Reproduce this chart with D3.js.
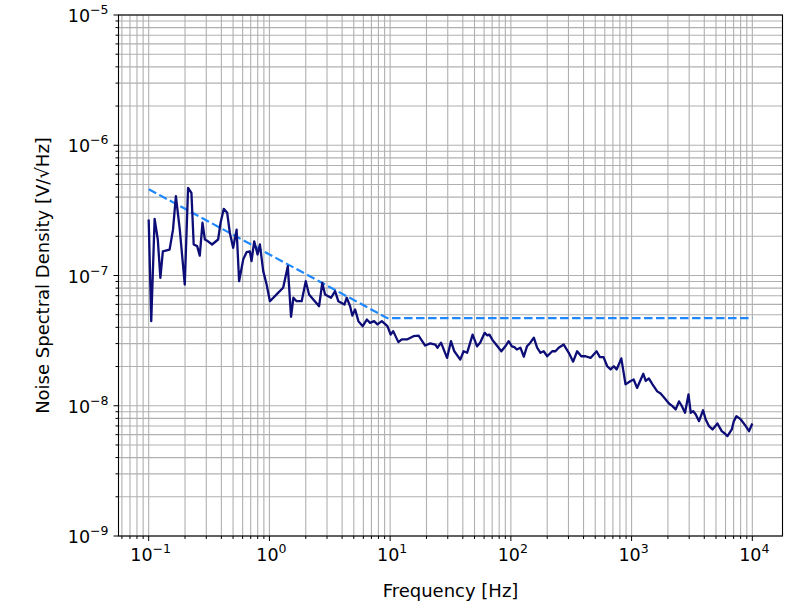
<!DOCTYPE html>
<html>
<head>
<meta charset="utf-8">
<script src="https://cdn.jsdelivr.net/npm/d3@7"></script>
<style>
  body { margin: 0; background: #fff; }
  text { font-family: "DejaVu Sans", sans-serif; fill: #000; }
</style>
</head>
<body>
<svg id="chart" width="798" height="604"></svg>
<script>
// measured noise spectrum
var freq = [0.1, 0.105, 0.112, 0.119, 0.125, 0.131, 0.149, 0.159, 0.168, 0.181, 0.199, 0.212, 0.226, 0.236, 0.252, 0.265,
  0.279, 0.292, 0.31, 0.335, 0.376, 0.394, 0.419, 0.447, 0.47, 0.501, 0.535, 0.561, 0.607, 0.647, 0.689, 0.711, 0.748,
  0.798, 0.834, 0.889, 0.948, 1.01, 1.18, 1.3, 1.42, 1.51, 1.58, 1.68, 1.85, 2.0, 2.13, 2.31, 2.58, 2.74, 2.89, 3.24,
  3.5, 3.72, 4.18, 4.37, 4.66, 4.86, 5.13, 5.46, 5.93, 6.41, 6.82, 7.36, 7.85, 8.53, 9.5, 10.1, 10.6, 11.7, 12.5, 13.8,
  15.6, 17.2, 19.5, 21.5, 23.6, 24.7, 26.4, 29.6, 31.9, 34.0, 38.1, 40.6, 43.4, 48.2, 52.5, 55.8, 60.7, 63.8, 66.4,
  70.6, 75.4, 83.4, 90.0, 95.9, 102, 107, 112, 120, 128, 136, 145, 155, 165, 176, 187, 200, 220, 234, 249, 274, 302,
  328, 354, 383, 415, 457, 513, 546, 586, 628, 670, 713, 752, 822, 891, 982, 1040, 1110, 1250, 1310, 1390, 1490, 1630,
  1740, 1850, 2040, 2180, 2320, 2470, 2600, 2770, 2960, 3090, 3230, 3400, 3620, 3910, 4110, 4380, 4680, 5140, 5580,
  5920, 6220, 6760, 7020, 7390, 8030, 8830, 9400, 10000];
var noise = [2.69e-7, 4.46e-8, 2.72e-7, 1.89e-7, 9.6e-8, 1.53e-7, 1.58e-7, 2.25e-7, 4.06e-7, 2.25e-7, 8.53e-8, 4.71e-7,
  4.31e-7, 1.73e-7, 1.68e-7, 1.42e-7, 2.54e-7, 1.89e-7, 1.83e-7, 1.73e-7, 1.89e-7, 2.54e-7, 3.25e-7, 3.03e-7, 2.13e-7,
  1.63e-7, 2.25e-7, 9.04e-8, 1.33e-7, 1.51e-7, 1.53e-7, 1.29e-7, 1.83e-7, 1.45e-7, 1.73e-7, 1.08e-7, 8.53e-8, 6.35e-8,
  7.36e-8, 8.05e-8, 1.18e-7, 4.82e-8, 6.75e-8, 6.35e-8, 6.35e-8, 9.04e-8, 7.15e-8, 6.54e-8, 5.81e-8, 8.79e-8, 7.15e-8,
  6.75e-8, 7.58e-8, 6.35e-8, 5.98e-8, 6.75e-8, 5.81e-8, 4.93e-8, 5.48e-8, 4.46e-8, 4.08e-8, 4.59e-8, 4.33e-8, 4.46e-8,
  4.21e-8, 4.46e-8, 4.08e-8, 3.52e-8, 3.74e-8, 3.08e-8, 3.23e-8, 3.23e-8, 3.42e-8, 3.46e-8, 2.9e-8, 3.01e-8, 2.95e-8,
  2.79e-8, 3.05e-8, 2.33e-8, 3.13e-8, 2.62e-8, 2.26e-8, 2.62e-8, 2.55e-8, 3.52e-8, 2.86e-8, 3.06e-8, 3.63e-8, 3.47e-8,
  3.52e-8, 3.19e-8, 2.95e-8, 2.62e-8, 2.86e-8, 3.13e-8, 2.86e-8, 2.82e-8, 2.7e-8, 2.79e-8, 2.38e-8, 2.86e-8, 3.05e-8,
  3.33e-8, 2.79e-8, 2.55e-8, 2.62e-8, 2.4e-8, 2.62e-8, 2.62e-8, 2.79e-8, 2.95e-8, 2.55e-8, 2.18e-8, 2.62e-8, 2.4e-8,
  2.4e-8, 2.33e-8, 2.62e-8, 2.36e-8, 2.36e-8, 2.01e-8, 1.9e-8, 2.01e-8, 1.9e-8, 2.31e-8, 1.46e-8, 1.55e-8, 1.59e-8,
  1.37e-8, 1.76e-8, 1.55e-8, 1.62e-8, 1.46e-8, 1.29e-8, 1.24e-8, 1.16e-8, 1.04e-8, 9.93e-9, 9.37e-9, 1.08e-8, 1.0e-8,
  8.83e-9, 1.22e-8, 8.83e-9, 9.1e-9, 8.57e-9, 7.62e-9, 9.24e-9, 7.85e-9, 6.97e-9, 6.58e-9, 7.31e-9, 6.38e-9, 6.12e-9,
  5.85e-9, 6.58e-9, 7.59e-9, 8.32e-9, 7.85e-9, 6.97e-9, 6.38e-9, 7.31e-9];

// requirement curve (corner points)
var specFreq = [0.1, 9.5, 10000];
var specNoise = [4.6e-7, 4.7e-8, 4.7e-8];

var xTickExp = [-1, 0, 1, 2, 3, 4];
var yTickExp = [-9, -8, -7, -6, -5];

var svg = d3.select("#chart");
var L = 118.5, R = 782.5, T = 15, B = 536;

var x = d3.scaleLog().domain([Math.pow(10, -1.25), Math.pow(10, 4.25)]).range([L, R]);
var y = d3.scaleLog().domain([1e-9, 1e-5]).range([B, T]);

function minors(lo, hi) {
  var out = [];
  for (var e = lo; e <= hi; e++) {
    for (var m = 1; m <= 9; m++) out.push(m * Math.pow(10, e));
  }
  return out;
}
function isMajor(d) {
  var l = Math.log10(d);
  return Math.abs(l - Math.round(l)) < 1e-6;
}
var xGrid = minors(-2, 4).filter(function (d) { return d >= x.domain()[0] && d <= x.domain()[1]; });
var yGrid = minors(-9, -5).filter(function (d) { return d >= 1e-9 * 0.999 && d <= 1e-5 * 1.001; });

var g = svg.append("g");

// grid
g.selectAll("line.gx").data(xGrid).enter().append("line")
  .attr("x1", function (d) { return x(d); }).attr("x2", function (d) { return x(d); })
  .attr("y1", T).attr("y2", B)
  .attr("stroke", "#b0b0b0").attr("stroke-width", 1.1);
g.selectAll("line.gy").data(yGrid).enter().append("line")
  .attr("y1", function (d) { return y(d); }).attr("y2", function (d) { return y(d); })
  .attr("x1", L).attr("x2", R)
  .attr("stroke", "#b0b0b0").attr("stroke-width", 1.1);

// data
var line = d3.line().x(function (d) { return x(d[0]); }).y(function (d) { return y(d[1]); });

g.append("path")
  .attr("d", line(d3.zip(specFreq, specNoise)))
  .attr("fill", "none").attr("stroke", "#1e88ff").attr("stroke-width", 2.2)
  .attr("stroke-dasharray", "8.5,3.5");

g.append("path")
  .attr("d", line(d3.zip(freq, noise)))
  .attr("fill", "none").attr("stroke", "#0d0d78").attr("stroke-width", 2.3)
  .attr("stroke-linejoin", "round");

// ticks
g.selectAll("line.tx").data(xGrid).enter().append("line")
  .attr("x1", function (d) { return x(d); }).attr("x2", function (d) { return x(d); })
  .attr("y1", B).attr("y2", function (d) { return isMajor(d) ? B + 5 : B + 3; })
  .attr("stroke", "#000").attr("stroke-width", 1);
g.selectAll("line.ty").data(yGrid).enter().append("line")
  .attr("y1", function (d) { return y(d); }).attr("y2", function (d) { return y(d); })
  .attr("x1", L).attr("x2", function (d) { return isMajor(d) ? L - 5 : L - 3; })
  .attr("stroke", "#000").attr("stroke-width", 1);

// frame
g.append("rect").attr("x", L).attr("y", T).attr("width", R - L).attr("height", B - T)
  .attr("fill", "none").attr("stroke", "#000").attr("stroke-width", 1.1);

// tick labels
function powLabel(sel, e) {
  sel.append("tspan").text("10").attr("font-size", "17.5px");
  sel.append("tspan").text(e < 0 ? "\u2212" + (-e) : String(e)).attr("font-size", "12.5px").attr("dy", -8);
}
xTickExp.forEach(function (e) {
  var t = g.append("text").attr("x", x(Math.pow(10, e)) + 2).attr("y", 561).attr("text-anchor", "middle");
  powLabel(t, e);
});
yTickExp.forEach(function (e) {
  var t = g.append("text").attr("x", L - 10).attr("y", y(Math.pow(10, e)) + 7).attr("text-anchor", "end");
  powLabel(t, e);
});

// axis titles
svg.append("text").attr("x", (L + R) / 2).attr("y", 597).attr("text-anchor", "middle")
  .attr("font-size", "18px").text("Frequency [Hz]");
svg.append("text").attr("transform", "translate(49," + ((T + B) / 2) + ") rotate(-90)")
  .attr("text-anchor", "middle").attr("font-size", "18px").text("Noise Spectral Density [V/\u221AHz]");
</script>
</body>
</html>
